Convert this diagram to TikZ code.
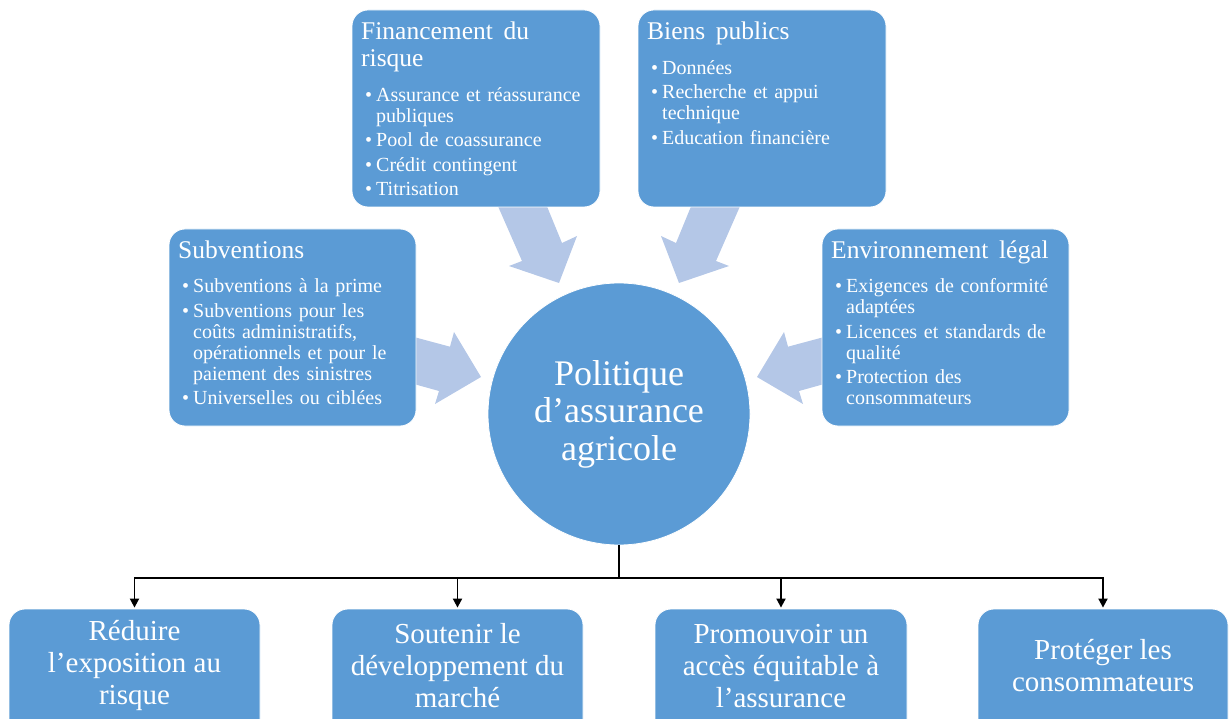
\documentclass[tikz,border=0pt]{standalone}
\usepackage{fontspec}
\setmainfont{Liberation Serif}
\usetikzlibrary{arrows.meta}
\definecolor{boxblue}{RGB}{91,155,213}
\definecolor{arrblue}{RGB}{180,199,231}
\newcommand\bul[1]{\par\hangindent=15pt\hangafter=1\noindent\hspace*{4pt}\makebox[11pt][l]{\textbullet}#1\par}
\newcommand\ttlline[1]{{\fontsize{25.5}{27}\selectfont\rule{0pt}{20pt}#1\par}\vspace{10pt}}
\newcommand\wsp{\hspace{4pt} }
\begin{document}
\begin{tikzpicture}[x=1pt,y=-1pt,
  box/.style={draw=white, line width=0.8pt, fill=boxblue, rounded corners=16pt, inner sep=0pt},
  bigarrow/.style={fill=arrblue, draw=none},
  txt/.style={anchor=north west, inner sep=0pt, text width=300pt, text=white,
    font=\fontsize{20}{21}\selectfont, execute at begin node={\raggedright\setlength\parskip{3.5pt}\setlength\parindent{0pt}}},
  goal/.style={inner sep=0pt, align=center, text=white, font=\fontsize{29}{32}\selectfont},
  link/.style={draw=black, line width=1.8pt, -{Triangle[length=9pt,width=9pt]}},
  trunk/.style={draw=black, line width=1.8pt}]
\useasboundingbox (0,0) rectangle (1229,719);
\clip (0,0) rectangle (1229,719);
% block arrows
\fill[bigarrow] (497,204) -- (546,204) -- (562,243) -- (577,236) -- (559,283) -- (509,266) -- (522,261) -- cycle;
\fill[bigarrow] (741,204) -- (692,204) -- (676,243) -- (661,236) -- (679,283) -- (729,266) -- (716,261) -- cycle;
\fill[bigarrow] (412,336.5) -- (450,346.7) -- (454,332) -- (481,377) -- (435,404) -- (439,391) -- (412,383.5) -- cycle;
\fill[bigarrow] (826,336.5) -- (788,346.7) -- (784,332) -- (757,377) -- (803,404) -- (799,391) -- (826,383.5) -- cycle;
% boxes
\node[box, minimum width=248pt, minimum height=197pt] (fin) at (476,108.5) {};
\node[box, minimum width=248pt, minimum height=197pt] (bien) at (762,108.5) {};
\node[box, minimum width=247pt, minimum height=197pt] (sub) at (292.5,327.5) {};
\node[box, minimum width=247pt, minimum height=197pt] (env) at (945.5,327.5) {};
\node[box, circle, minimum size=262pt, align=center, text=white, font=\fontsize{36}{37.5}\selectfont] (c) at (619,414) {Politique\\d’assurance\\agricole};
% box texts
\node[txt] (tfin) at (361,19.7) {\ttlline{Financement\wsp du\newline risque}\bul{Assurance et réassurance\newline publiques}\bul{Pool de coassurance}\bul{Crédit contingent}\bul{Titrisation}};
\node[txt] (tbien) at (647,19.7) {\ttlline{Biens\wsp publics}\bul{Données}\bul{Recherche et appui\newline technique}\bul{Education financière}};
\node[txt] (tsub) at (178,238.3) {\ttlline{Subventions}\bul{Subventions à la prime}\bul{Subventions pour les\newline coûts administratifs,\newline opérationnels et pour le\newline paiement des sinistres}\bul{Universelles ou ciblées}};
\node[txt] (tenv) at (831,238.3) {\ttlline{Environnement\wsp légal}\bul{Exigences de conformité\newline adaptées}\bul{Licences et standards de\newline qualité}\bul{Protection des\newline consommateurs}};
% bottom goals
\node[box, minimum width=251pt, minimum height=130pt] (b1) at (134.5,674) {};
\node[box, minimum width=251pt, minimum height=130pt] (b2) at (457.5,674) {};
\node[box, minimum width=252pt, minimum height=130pt] (b3) at (781,674) {};
\node[box, minimum width=250pt, minimum height=130pt] (b4) at (1103,674) {};
\node[goal] (t1) at ([yshift=8pt]b1.center) {Réduire\\l’exposition au\\risque};
\node[goal] (t2) at ([yshift=8pt]b2.center) {Soutenir le\\développement du\\marché};
\node[goal] (t3) at ([yshift=8pt]b3.center) {Promouvoir un\\accès équitable à\\l’assurance};
\node[goal] (t4) at ([yshift=8pt]b4.center) {Protéger les\\consommateurs};
% connectors
\coordinate (j) at (619,578);
\draw[trunk] (c.south) -- (j);
\draw[link] (j) -| ([yshift=1pt]b1.north);
\draw[link] (j) -| ([yshift=1pt]b2.north);
\draw[link] (j) -| ([yshift=1pt]b3.north);
\draw[link] (j) -| ([yshift=1pt]b4.north);
\end{tikzpicture}
\end{document}
